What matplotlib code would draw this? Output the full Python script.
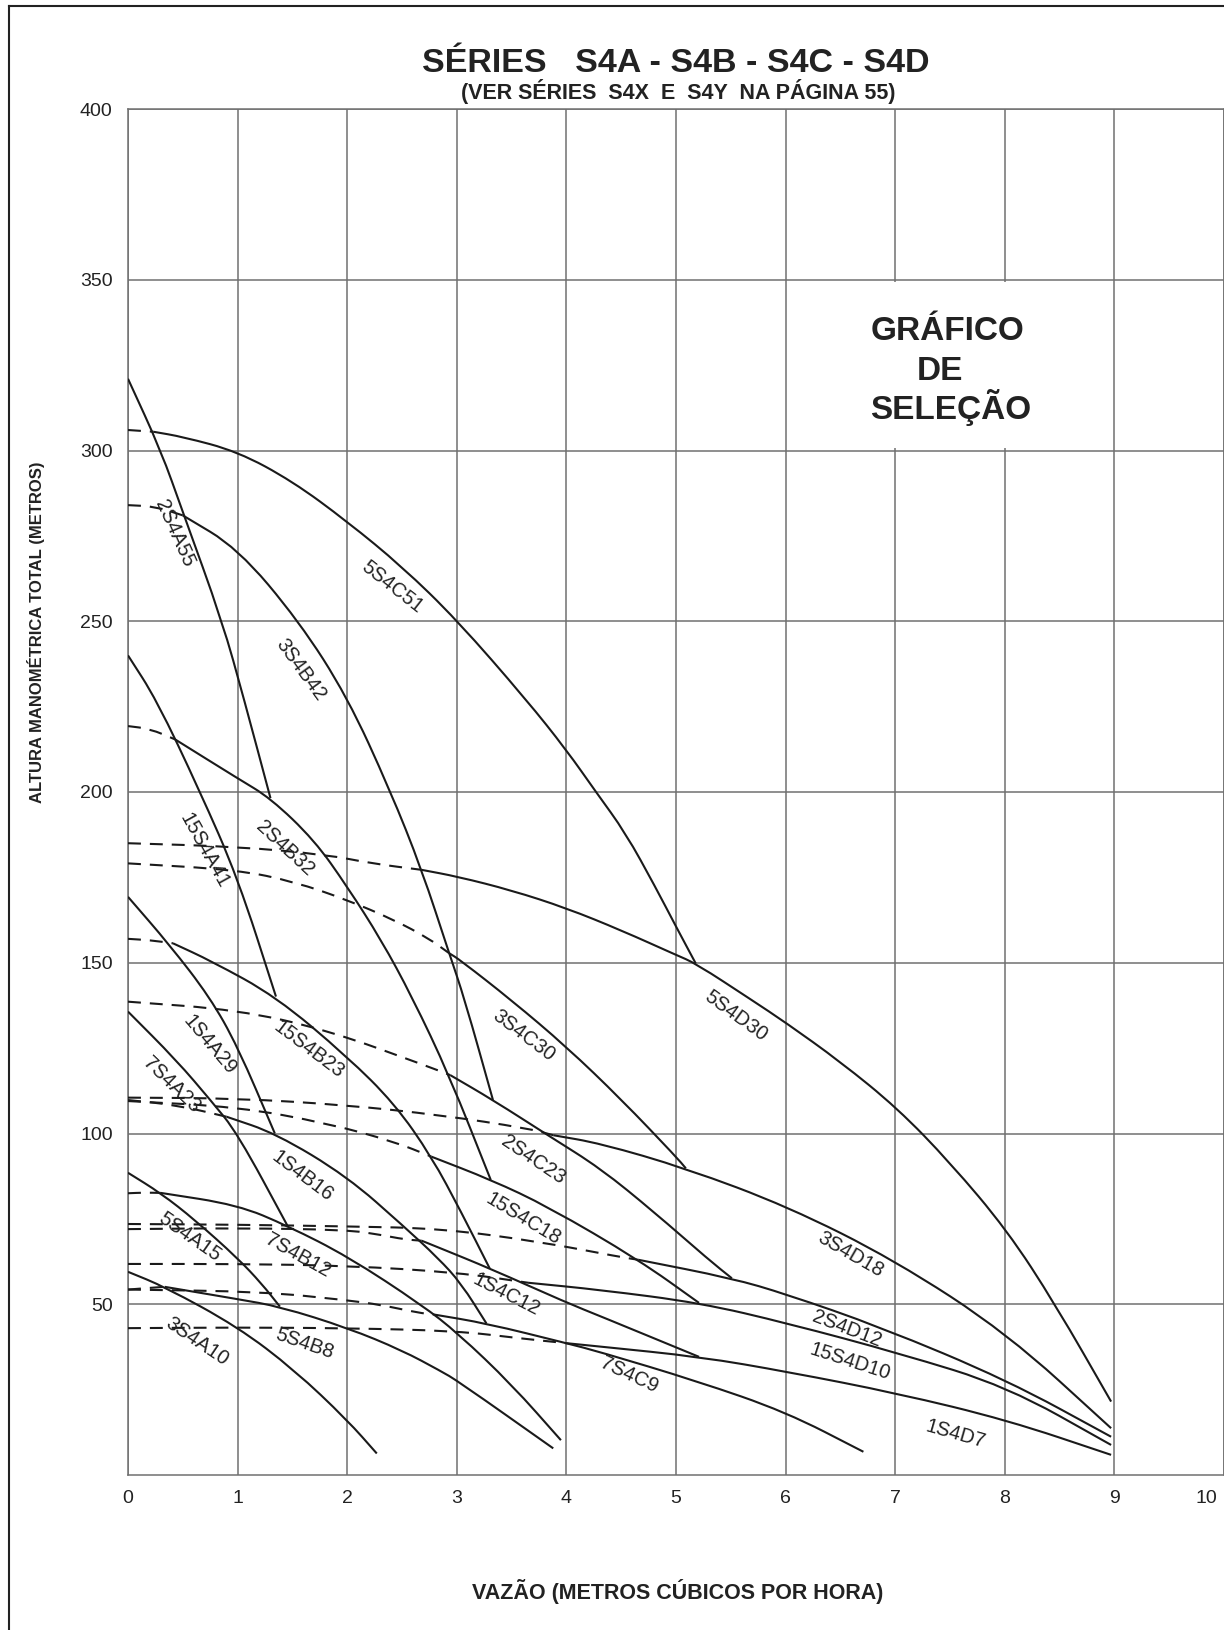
import matplotlib
matplotlib.use("Agg")
import matplotlib.pyplot as plt
from matplotlib.patches import Rectangle, PathPatch
from matplotlib.path import Path
from matplotlib.lines import Line2D

plt.rcParams["font.family"] = ["Liberation Sans", "DejaVu Sans"]

# ---------------- curve data (x = m3/h, y = m) ----------------
# each pump: dashed part (not recommended) + solid part
c5S4C51_dash = [(0, 306), (0.23, 305.5)]
c5S4C51_solid = [(0.23, 305.5), (0.5, 304), (1.0, 299.7), (1.5, 291), (2.0, 279.2), (2.5, 266),
                 (3.0, 250.4), (3.635, 227), (4.0, 212.3), (4.27, 200), (4.54, 188),
                 (4.81, 172.3), (5.0, 160.6), (5.18, 149.8)]

c5S4D30_dash = [(0, 185), (1.0, 184), (1.82, 181.6), (2.22, 179.1), (2.68, 177.2)]
c5S4D30_solid = [(2.68, 177.2), (3.01, 175.2), (3.5, 171.2), (4.0, 166), (4.5, 159.5), (5.0, 152.3),
                 (5.18, 149.8), (5.69, 139.1), (6.0, 132.5), (6.5, 121), (7.02, 107.4),
                 (7.5, 91.5), (8.02, 71.7), (8.46, 50), (8.97, 21.5)]

c3S4B42_dash = [(0, 284), (0.25, 283.6), (0.5, 281)]
c3S4B42_solid = [(0.5, 281), (1.0, 271.4), (1.56, 250), (2.0, 227.9), (2.39, 200.6), (2.68, 177.3),
                 (2.93, 152.8), (3.07, 139.5), (3.33, 109.8)]

c2S4A55_solid = [(0, 321), (0.30, 300), (0.5, 282), (0.86, 250), (1.06, 227), (1.30, 198.2)]

c2S4B32_dash = [(0, 219.3), (0.2, 218.5), (0.43, 215.4)]
c2S4B32_solid = [(0.43, 215.4), (1.0, 204), (1.30, 198.2), (1.70, 185.9), (2.0, 172.3),
                 (2.31, 156.7), (2.59, 140.1), (2.93, 117.1), (3.31, 86.4)]

c15S4A41_solid = [(0, 240), (0.26, 227), (0.65, 200.6), (1.0, 175), (1.35, 140.1)]

c3S4C30_dash = [(0, 179.1), (1.0, 177.2), (1.52, 173.7), (2.0, 168.4), (2.43, 162.5),
                (2.74, 157.2), (2.93, 152.8)]
c3S4C30_solid = [(2.93, 152.8), (3.03, 150.8), (3.5, 139), (4.0, 125.4), (4.5, 110),
                 (5.0, 93.2), (5.09, 89.8)]

c15S4B23_dash = [(0, 157), (0.2, 156.6), (0.41, 155.7)]
c15S4B23_solid = [(0.41, 155.7), (0.76, 150.5), (1.35, 140.1), (2.0, 122.5), (2.43, 108.8),
                  (2.77, 93.2), (3.04, 77), (3.30, 60.5)]

c2S4C23_dash = [(0, 138.6), (1.0, 136.2), (1.82, 130.3), (2.74, 119.6), (2.94, 117.1)]
c2S4C23_solid = [(2.94, 117.1), (3.33, 109.8), (3.85, 99.1), (4.31, 89.8), (4.8, 77),
                 (5.30, 63), (5.51, 57.6)]

c1S4A29_solid = [(0, 169.3), (0.38, 155.2), (0.745, 140), (1.0, 125.5), (1.34, 100)]

c7S4A23_solid = [(0, 135.7), (0.44, 121.5), (0.76, 109.5), (1.0, 100), (1.46, 72.7)]

c1S4B16_dash = [(0, 109.8), (0.45, 108.3), (0.90, 104.9)]
c1S4B16_solid = [(0.90, 104.9), (1.35, 100), (2.0, 87.4), (2.52, 72.7), (2.83, 63.5),
                 (3.04, 56.1), (3.27, 44.4)]

c15S4C18_dash = [(0, 109.5), (1.0, 107.8), (1.82, 103), (2.43, 97.6), (2.77, 93.2)]
c15S4C18_solid = [(2.77, 93.2), (3.315, 86.4), (3.83, 78.6), (4.66, 63), (5.21, 50.4)]

c3S4D18_dash = [(0, 110.5), (1.0, 110.3), (2.0, 108.3), (2.85, 105.4), (3.65, 101.5), (3.88, 99.5)]
c3S4D18_solid = [(3.88, 99.5), (4.31, 97.1), (5.09, 89.8), (6.02, 78.6), (6.99, 63),
                 (8.02, 41.5), (8.97, 13.7)]

c5S4A15_solid = [(0, 88.5), (0.30, 82.5), (0.61, 74.7), (1.0, 63.5), (1.22, 56), (1.386, 49.3)]

c7S4B12_dash = [(0, 82.5), (0.15, 82.7), (0.30, 82.6)]
c7S4B12_solid = [(0.30, 82.6), (1.0, 79.1), (1.46, 72.9), (2.01, 63.9), (2.68, 49.8),
                 (3.01, 41.5), (3.5, 26.5), (3.95, 10.2)]

c1S4C12_dash = [(0, 72), (1.0, 72.3), (2.0, 71.8), (2.31, 70.3), (2.52, 69), (2.68, 68.6)]
c1S4C12_solid = [(2.68, 68.6), (2.85, 66.4), (3.30, 60.5), (4.0, 50.5), (4.31, 46.5), (5.21, 34.6)]

c2S4D12_dash = [(0, 73.5), (1.0, 73.3), (2.0, 72.8), (2.85, 72.2), (3.76, 68.3), (4.48, 63.9),
                (4.66, 63)]
c2S4D12_solid = [(4.66, 63), (5.51, 57.6), (6.0, 53), (6.86, 43.4), (8.02, 27.8), (8.97, 11.2)]

c15S4D10_dash = [(0, 61.8), (1.0, 61.8), (2.0, 61.3), (3.01, 59.3), (3.65, 56.3)]
c15S4D10_solid = [(3.65, 56.3), (4.31, 54.2), (5.22, 50.4), (6.02, 44.4), (7.04, 35.6),
                  (8.02, 25.9), (8.97, 8.8)]

c1S4D7_dash = [(0, 43), (1.0, 43.2), (2.0, 43), (3.0, 42.2), (3.58, 40), (4.0, 38.6)]
c1S4D7_solid = [(4.0, 38.6), (4.31, 37.6), (5.22, 34.6), (6.02, 30.2), (7.02, 23.9),
                (8.02, 16.1), (8.97, 5.9)]

c7S4C9_dash = [(0, 54.3), (1.22, 53.7), (2.0, 51.2), (2.31, 49.8), (2.65, 47.5), (2.79, 47)]
c7S4C9_solid = [(2.79, 47), (3.27, 44.4), (4.0, 38.6), (4.31, 36), (5.19, 27.5), (6.0, 18.5),
                (6.71, 6.8)]

c5S4B8_dash = [(0, 54.3), (0.2, 54.8), (0.335, 55.1)]
c5S4B8_solid = [(0.335, 55.1), (1.0, 51.5), (1.386, 49.3), (2.01, 43), (2.5, 36.5),
                (2.85, 30.5), (3.01, 27.5), (3.88, 7.8)]

c3S4A10_solid = [(0, 59.5), (0.335, 55.1), (1.0, 43.4), (1.52, 30.7), (2.0, 16.1), (2.27, 6.3)]

# curve labels: text, x, y, rotation
label_names = ["2S4A55", "5S4C51", "3S4B42", "15S4A41", "2S4B32", "5S4D30", "3S4C30",
               "1S4A29", "15S4B23", "7S4A23", "2S4C23", "1S4B16", "15S4C18", "3S4D18",
               "5S4A15", "7S4B12", "1S4C12", "2S4D12", "15S4D10", "3S4A10", "5S4B8",
               "7S4C9", "1S4D7"]
label_x = [0.425, 2.415, 1.577, 0.693, 1.436, 5.546, 3.605, 0.745, 1.648, 0.40, 3.695, 1.588,
           3.61, 6.595, 0.566, 1.551, 3.454, 6.557, 6.583, 0.63, 1.612, 4.572, 7.548]
label_y = [275.7, 260.1, 235.7, 183.0, 183.5, 134.4, 128.8, 125.9, 124.5, 114.2, 92.2, 87.4,
           74.9, 64.7, 69.7, 64.4, 52.7, 42.9, 33.2, 39.0, 38.6, 29.3, 12.0]
label_rot = [-66, -38, -54, -61, -43, -36, -37, -50, -37, -44, -34, -37,
             -31, -30, -35, -29, -27, -21, -18, -34, -19, -25, -16]

x_ticks = list(range(0, 11))
y_ticks = list(range(50, 401, 50))

curves = [
    (c5S4C51_dash, c5S4C51_solid), (c5S4D30_dash, c5S4D30_solid),
    (c3S4B42_dash, c3S4B42_solid), (None, c2S4A55_solid),
    (c2S4B32_dash, c2S4B32_solid), (None, c15S4A41_solid),
    (c3S4C30_dash, c3S4C30_solid), (c15S4B23_dash, c15S4B23_solid),
    (c2S4C23_dash, c2S4C23_solid), (None, c1S4A29_solid),
    (None, c7S4A23_solid), (c1S4B16_dash, c1S4B16_solid),
    (c15S4C18_dash, c15S4C18_solid), (c3S4D18_dash, c3S4D18_solid),
    (None, c5S4A15_solid), (c7S4B12_dash, c7S4B12_solid),
    (c1S4C12_dash, c1S4C12_solid), (c2S4D12_dash, c2S4D12_solid),
    (c15S4D10_dash, c15S4D10_solid), (c1S4D7_dash, c1S4D7_solid),
    (c7S4C9_dash, c7S4C9_solid), (c5S4B8_dash, c5S4B8_solid),
    (None, c3S4A10_solid),
]

GRID = "#707070"
INK = "#1a1a1a"
W, H = 1224, 1630


def smooth_path(pts):
    # quadratic b-spline through the read points (ends kept exact)
    if len(pts) < 3:
        return Path(pts)
    verts = [pts[0], ((pts[0][0] + pts[1][0]) / 2, (pts[0][1] + pts[1][1]) / 2)]
    codes = [Path.MOVETO, Path.LINETO]
    for i in range(1, len(pts) - 1):
        nxt = ((pts[i][0] + pts[i + 1][0]) / 2, (pts[i][1] + pts[i + 1][1]) / 2)
        verts += [pts[i], nxt]
        codes += [Path.CURVE3, Path.CURVE3]
    verts.append(pts[-1])
    codes.append(Path.LINETO)
    return Path(verts, codes)


fig = plt.figure(figsize=(W / 100, H / 100), dpi=100)
ax = fig.add_axes([128 / W, 155 / H, 1096 / W, 1366 / H])
ax.set_xlim(0, 10)
ax.set_ylim(0, 400)

ax.set_xticks(x_ticks)
ax.set_xticklabels([str(t) for t in x_ticks[:-1]] + [""])
ax.set_yticks(y_ticks)
ax.tick_params(length=0, pad=11, labelsize=14, colors="#222222")
ax.annotate(str(x_ticks[-1]), xy=(x_ticks[-1], 0), xytext=(-5, -11), textcoords="offset points",
            ha="right", va="top", fontsize=14, color="#222222", annotation_clip=False)
ax.grid(True, color=GRID, linewidth=1.1)
ax.set_axisbelow(True)
for s in ax.spines.values():
    s.set_color(GRID)
    s.set_linewidth(1.1)

# white box behind the "GRÁFICO DE SELEÇÃO" text
ax.add_patch(Rectangle((6.02, 300.6), 2.96, 48.8, facecolor="white",
                       edgecolor="none", zorder=1.6))

for dash, solid in curves:
    if dash is not None:
        ax.add_patch(PathPatch(smooth_path(dash), fill=False, edgecolor=INK, lw=1.5,
                               linestyle=(0, (6.2, 4.3)), zorder=3))
    ax.add_patch(PathPatch(smooth_path(solid), fill=False, edgecolor=INK, lw=1.5,
                           capstyle="butt", zorder=3))

for name, x, y, r in zip(label_names, label_x, label_y, label_rot):
    ax.text(x, y, name, rotation=r, rotation_mode="anchor", ha="center", va="center",
            fontsize=14.5, color="#222222", zorder=4)

ax.text(7.48, 332.4, "GRÁFICO", fontsize=24, fontweight="bold", ha="center",
        va="baseline", color="#222222", zorder=4)
ax.text(7.41, 320.6, "DE", fontsize=24, fontweight="bold", ha="center",
        va="baseline", color="#222222", zorder=4)
ax.text(7.51, 309.1, "SELEÇÃO", fontsize=24, fontweight="bold", ha="center",
        va="baseline", color="#222222", zorder=4)

fig.text(676 / W, 1 - 63 / H, "SÉRIES   S4A - S4B - S4C - S4D", fontsize=24.5,
         fontweight="bold", ha="center", va="center", color="#222222")
fig.text(678 / W, 1 - 91 / H, "(VER SÉRIES  S4X  E  S4Y  NA PÁGINA 55)", fontsize=15.5,
         fontweight="bold", ha="center", va="center", color="#222222")

fig.text(678 / W, 1 - 1592 / H, "VAZÃO (METROS CÚBICOS POR HORA)", fontsize=15.5,
         fontweight="bold", ha="center", va="center", color="#222222")
fig.text(36 / W, 1 - 632 / H, "ALTURA MANOMÉTRICA TOTAL (METROS)", fontsize=12,
         fontweight="bold", ha="center", va="center", rotation=90, color="#222222")

# page frame
fig.add_artist(Line2D([9 / W, 9 / W], [0, 1 - 6 / H], transform=fig.transFigure,
                      color="#222222", lw=1.5))
fig.add_artist(Line2D([9 / W, 1], [1 - 6 / H, 1 - 6 / H], transform=fig.transFigure,
                      color="#222222", lw=1.5))

fig.savefig("out.png", dpi=100, facecolor="white")
